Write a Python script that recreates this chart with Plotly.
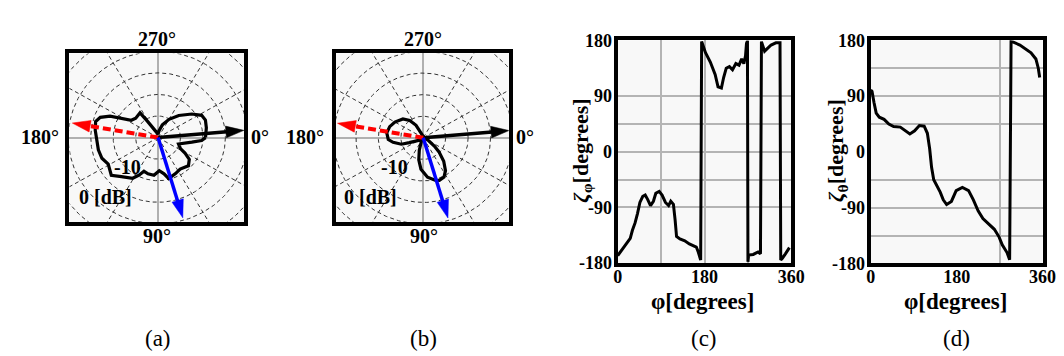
import numpy as np
import plotly.graph_objects as go

W, H = 1064, 356

# ---------------- data ----------------
# (a) radiation pattern [dB] versus phi [deg]
pat_a_phi = [0, 4, 8, 18, 27, 31, 36, 44, 56, 65, 76, 81, 88, 96, 105, 112, 116, 121, 132, 140,
             151, 159, 168, 177, 187, 195, 200, 205, 209, 214, 222, 230, 235, 238, 242, 255, 270,
             278, 288, 300, 312, 324, 332, 339, 348, 358, 360]
pat_a_db = [-9.4, -10.3, -12.4, -15.2, -14.4, -13.0, -11.4, -10.6, -11.2, -10.8, -10.2, -11.5, -12.3,
            -11.2, -11.3, -11.6, -10.3, -9.0, -7.8, -6.4, -7.3, -6.6, -6.4, -6.4, -5.9, -5.6, -6.3,
            -8.2, -10.7, -12.8, -13.3, -13.2, -13.0, -15.5, -17.5, -18.9, -19.2, -18.4, -16.9,
            -15.1, -13.1, -10.7, -9.0, -8.7, -9.0, -9.4, -9.4]

# (b) radiation pattern [dB] versus phi [deg]
pat_b_phi = [0, 15, 30, 38, 43, 50, 57, 63, 70, 75, 84, 94, 101, 107, 115, 130, 150, 156, 160, 163,
             171, 177, 188, 199, 210, 224, 233, 241, 246, 260, 300, 360]
pat_b_db = [-19.8, -19.5, -18.6, -16.8, -15.2, -12.9, -10.9, -9.8, -9.5, -9.8, -10.8, -12.7, -14.8,
            -17.0, -19.0, -19.5, -18.8, -18.3, -16.7, -14.9, -13.2, -12.2, -11.8, -12.1, -12.7,
            -13.7, -15.0, -16.7, -18.8, -19.6, -19.8, -19.8]

# arrows (direction in deg, length in dB above the centre level)
arrow_phi = [355, 190, 73.5]
arrow_len = [19.2, 19.4, 19.4]

# polar grid
db_min = -20
grid_db = [-15, -10, -5, 0, 5]
spoke_deg = [30, 60, 120, 150, 210, 240, 300, 330]

# (c) zeta_phi versus phi
phi_c = [0, 6, 12.5, 19, 26, 30.5, 36, 41, 46, 52, 57, 62, 68, 74, 79, 86, 92, 99, 105.5, 110,
         115.5, 119, 122, 129, 139, 148.5, 156.5, 163, 167, 172, 174, 182, 192, 202, 208, 215,
         219.6, 225, 231.6, 238, 245, 251.5, 257, 261.5, 265, 267, 269, 270, 271.4, 281, 291,
         296, 298, 304.6, 311, 318, 328, 336.5, 338, 341, 347.7, 354.4, 356]
zeta_c = [-168, -162, -155, -147, -140, -127, -115, -100, -82, -72, -70, -77, -87, -80, -67, -64,
          -70, -82, -87, -80, -85, -110, -137, -141, -144, -149, -152, -154, -162, -175, 178, 160,
          145, 125, 105, 103, 120, 135, 137.5, 132.5, 142.5, 140, 150, 142.5, 155, 175, 179, -178,
          -167, -166, -162, -165, 178, 162.5, 167.5, 172.5, 176, 176, -175, -172.5, -165, -157.5,
          -155]

# (d) zeta_theta versus phi
phi_d = [0, 2.8, 6.8, 11.5, 18, 28, 38, 48, 62, 72, 82, 92, 102, 112, 118.7, 123.5, 127.5, 132,
         139, 145.6, 152, 159, 169, 179, 192, 205, 215, 225, 235, 245, 259, 269, 275.5, 285.5,
         291, 294, 297.6, 312.5, 322.6, 335.8, 346, 351, 354]
zeta_d = [100, 97.5, 80, 62.5, 56, 52.5, 45, 41, 40, 35, 29, 34, 42.5, 41.5, 30, 5, -25, -45, -55,
          -65, -77.5, -85, -80, -62.5, -57.5, -62.5, -77.5, -95, -107.5, -115, -125, -137.5, -150,
          -162.5, -174, 178, 177.5, 172.5, 167.5, 160, 150, 135, 120]

x_ticks = [0, 180, 360]
y_ticks = [-180, -90, 0, 90, 180]

# ---------------- helpers ----------------
FONT = "Liberation Serif"


def to_xy(phi_deg, db):
    r = np.asarray(db, float) - db_min
    t = np.deg2rad(np.asarray(phi_deg, float))
    return r * np.cos(t), -r * np.sin(t)


def px(x):
    return x / W


def py(y):
    return 1 - y / H


fig = go.Figure()

panels = {
    1: dict(l=57.5, r=235.5, t=37.5, b=216.5, cx=147.7, cy=126.7),
    2: dict(l=328.7, r=504.7, t=37.5, b=216.5, cx=417.7, cy=126.9),
}
K = 4.57  # px per dB

pats = {1: (pat_a_phi, pat_a_db), 2: (pat_b_phi, pat_b_db)}
arrow_cols = ["#000000", "#ff0000", "#0000ff"]
arrow_w = [3.5, 4, 3.5]
arrow_dash = ["solid", "8px,4px", "solid"]

for i in (1, 2):
    xa = "x" if i == 1 else "x%d" % i
    ya = "y" if i == 1 else "y%d" % i
    # grid circles and spokes
    th = np.linspace(0, 360, 361)
    cx_all, cy_all = [], []
    for g in grid_db:
        gx, gy = to_xy(th, np.full_like(th, g))
        cx_all += list(gx) + [None]
        cy_all += list(gy) + [None]
    for s in spoke_deg:
        sx, sy = to_xy([s, s], [db_min, 15])
        cx_all += list(sx) + [None]
        cy_all += list(sy) + [None]
    fig.add_trace(go.Scatter(x=cx_all, y=cy_all, mode="lines", xaxis=xa, yaxis=ya,
                             line=dict(color="#333333", width=1, dash="4px,3px"),
                             hoverinfo="skip"))
    # pattern
    ph, db = pats[i]
    px_, py_ = to_xy(ph, db)
    fig.add_trace(go.Scatter(x=px_, y=py_, mode="lines", xaxis=xa, yaxis=ya,
                             line=dict(color="black", width=3.2)))
    # arrows
    for a, L, c, w, d in zip(arrow_phi, arrow_len, arrow_cols, arrow_w, arrow_dash):
        ax_, ay_ = to_xy([a, a], [db_min, db_min + L])
        fig.add_trace(go.Scatter(x=ax_, y=ay_, mode="lines+markers", xaxis=xa, yaxis=ya,
                                 opacity=1,
                                 line=dict(color=c, width=w, dash=d),
                                 marker=dict(symbol="arrow", angleref="previous", size=[0, 19],
                                             color=c, opacity=1, line=dict(width=0.5, color=c))))

# line charts
fig.add_trace(go.Scatter(x=phi_c, y=zeta_c, mode="lines", xaxis="x3", yaxis="y3",
                         line=dict(color="black", width=3)))
fig.add_trace(go.Scatter(x=phi_d, y=zeta_d, mode="lines", xaxis="x4", yaxis="y4",
                         line=dict(color="black", width=3)))

layout = dict(width=W, height=H, margin=dict(l=0, r=0, t=0, b=0), showlegend=False,
              paper_bgcolor="white", plot_bgcolor="#f8f8f8",
              font=dict(family=FONT, color="black"))

frame = dict(showline=True, mirror=True, linewidth=4, linecolor="black")

for i in (1, 2):
    p = panels[i]
    xr = [-(p["cx"] - p["l"]) / K, (p["r"] - p["cx"]) / K]
    yr = [-(p["b"] - p["cy"]) / K, (p["cy"] - p["t"]) / K]
    xk = "xaxis" if i == 1 else "xaxis%d" % i
    yk = "yaxis" if i == 1 else "yaxis%d" % i
    common = dict(showgrid=False, zeroline=True, zerolinecolor="#b0b0b0", zerolinewidth=1.5,
                  showticklabels=False, ticks="", fixedrange=True, **frame)
    layout[xk] = dict(domain=[px(p["l"]), px(p["r"])], range=xr,
                      anchor="y" if i == 1 else "y%d" % i, **common)
    layout[yk] = dict(domain=[py(p["b"]), py(p["t"])], range=yr,
                      anchor="x" if i == 1 else "x%d" % i, **common)

tickfont = dict(family=FONT, size=18, color="black", weight="bold")
gridc = "#b4b4b4"


def line_axes(n, l, r, t, b, xgrid, ygrid):
    layout["xaxis%d" % n] = dict(domain=[px(l), px(r)], range=[0, 360], anchor="y%d" % n,
                                 tickmode="array", tickvals=x_ticks,
                                 ticktext=[str(v) for v in x_ticks], tickfont=tickfont,
                                 ticks="outside", ticklen=0, ticklabelstandoff=-6,
                                 showgrid=False, zeroline=False,
                                 minor=dict(tickmode="array", tickvals=xgrid, showgrid=True,
                                            gridcolor=gridc, gridwidth=1.5, ticks="inside",
                                            ticklen=0),
                                 **frame)
    layout["yaxis%d" % n] = dict(domain=[py(b), py(t)], range=[-180, 180], anchor="x%d" % n,
                                 tickmode="array", tickvals=y_ticks,
                                 ticktext=[str(v) for v in y_ticks], tickfont=tickfont,
                                 ticks="outside", ticklen=0, ticklabelstandoff=-2,
                                 showgrid=False, zeroline=False,
                                 minor=dict(tickmode="array", tickvals=ygrid, showgrid=True,
                                            gridcolor=gridc, gridwidth=1.5, ticks="inside",
                                            ticklen=0),
                                 **frame)


line_axes(3, 615.7, 792.5, 23.7, 259.7, [90, 180, 270], [-90, -45, 0, 45, 90])
line_axes(4, 873.3, 1048.3, 23.7, 260.0, [270], [-135, -90, -45, 45, 90, 135])

ann = []


def text(x, y, s, size, bold=True, angle=0):
    ann.append(dict(x=px(x), y=py(y), xref="paper", yref="paper", text=s, showarrow=False,
                    xanchor="center", yanchor="middle", textangle=angle,
                    font=dict(family=FONT, size=size, color="black",
                              weight="bold" if bold else "normal")))


# polar angle labels
for lbls in [[(147, 22, "270°"), (27, 126, "180°"), (251, 126, "0°"), (146.5, 231, "90°")],
             [(417.5, 22, "270°"), (297.7, 126, "180°"), (521, 126, "0°"), (418.5, 231, "90°")]]:
    for x, y, s in lbls:
        text(x, y, s, 20)

text(117, 158, "-10", 20)
text(94.5, 190, "0 [dB]", 20)
text(388.7, 158, "-10", 20)
text(364.5, 190, "0 [dB]", 20)

text(579, 141, "<i>ζ</i><sub>φ</sub>[degrees]", 22, angle=-90)
text(839, 141, "<i>ζ</i><sub>θ</sub>[degrees]", 22, angle=-90)
text(701.7, 300, "φ[degrees]", 23)
text(960, 300, "φ[degrees]", 23)

for x, s in [(147.7, "(a)"), (417.7, "(b)"), (704, "(c)"), (961, "(d)")]:
    text(x, 340, s, 23, bold=False)

layout["annotations"] = ann
fig.update_layout(**layout)
fig.write_html("out.html")
